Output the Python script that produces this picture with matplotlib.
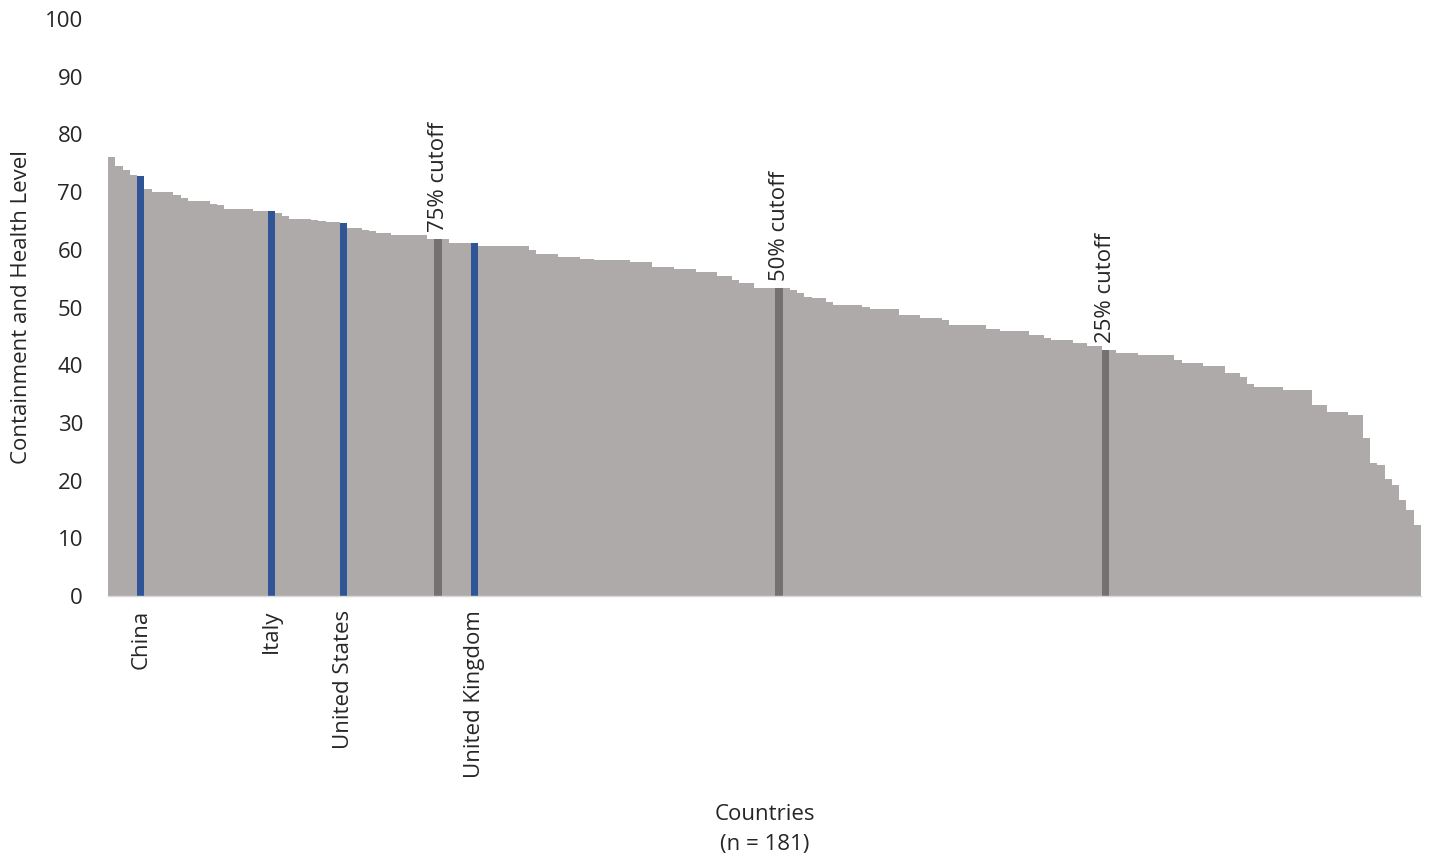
"""
Containment and health level by country, sorted descending.
"""

import matplotlib
matplotlib.use('Agg')
import matplotlib.pyplot as plt

# =============================================================================
# DATA
# =============================================================================

LEVELS = [
    76.0, 74.6, 73.8, 73.0, 72.8, 70.6, 70.1, 70.1, 70.1, 69.5,
    69.0, 68.4, 68.4, 68.4, 68.0, 67.7, 67.1, 67.1, 67.1, 67.1,
    66.8, 66.8, 66.8, 66.4, 65.9, 65.3, 65.3, 65.3, 65.2, 65.0,
    64.9, 64.8, 64.6, 63.8, 63.8, 63.5, 63.2, 62.9, 62.9, 62.5,
    62.5, 62.5, 62.5, 62.5, 61.8, 61.8, 61.8, 61.2, 61.2, 61.2,
    61.2, 60.6, 60.6, 60.6, 60.6, 60.6, 60.6, 60.6, 59.9, 59.3,
    59.3, 59.3, 58.7, 58.7, 58.7, 58.4, 58.4, 58.2, 58.2, 58.2,
    58.2, 58.2, 57.9, 57.9, 57.9, 57.1, 57.1, 57.1, 56.6, 56.6,
    56.6, 56.2, 56.2, 56.2, 55.4, 55.4, 54.8, 54.3, 54.3, 53.4,
    53.4, 53.4, 53.4, 53.3, 53.0, 52.5, 51.9, 51.6, 51.6, 51.0,
    50.5, 50.5, 50.5, 50.5, 50.1, 49.8, 49.8, 49.8, 49.8, 48.7,
    48.7, 48.7, 48.2, 48.2, 48.2, 47.8, 46.9, 46.9, 46.9, 46.9,
    46.9, 46.2, 46.2, 45.9, 45.9, 45.9, 45.9, 45.2, 45.2, 44.7,
    44.4, 44.4, 44.4, 43.9, 43.9, 43.3, 43.3, 42.7, 42.6, 42.2,
    42.2, 42.2, 41.7, 41.7, 41.7, 41.7, 41.7, 40.9, 40.3, 40.3,
    40.3, 39.8, 39.8, 39.8, 38.6, 38.6, 37.9, 36.7, 36.3, 36.3,
    36.3, 36.3, 35.7, 35.7, 35.7, 35.7, 33.1, 33.1, 31.9, 31.9,
    31.9, 31.3, 31.3, 27.3, 23.1, 22.7, 20.2, 19.2, 16.6, 14.9,
    12.3,
]

COUNTRY_NAMES = ['China', 'Italy', 'United States', 'United Kingdom']
COUNTRY_IDX = [4, 22, 32, 50]

CUTOFF_NAMES = ['75% cutoff', '50% cutoff', '25% cutoff']
CUTOFF_IDX = [45, 92, 137]

Y_TICKS = [0, 10, 20, 30, 40, 50, 60, 70, 80, 90, 100]

# =============================================================================
# STYLE
# =============================================================================

GREY = '#AEAAAA'
BLUE = '#2F5597'
DARK = '#767171'
TEXT = '#262626'
FS = 16

plt.rcParams['font.family'] = ['Open Sans', 'DejaVu Sans']

# =============================================================================
# PLOT
# =============================================================================

fig = plt.figure(figsize=(14.3, 8.65), dpi=100)
ax = fig.add_axes([108 / 1430, 1 - 596 / 865, 1313 / 1430, 577 / 865])

x = list(range(len(LEVELS)))
colors = [GREY] * len(LEVELS)
for i in COUNTRY_IDX:
    colors[i] = BLUE
for i in CUTOFF_IDX:
    colors[i] = DARK

ax.bar(x, LEVELS, width=1.0, color=colors, edgecolor='none', align='center')
# slim highlight so neighbours stay visible at the edges
for i in COUNTRY_IDX + CUTOFF_IDX:
    ax.bar(i, LEVELS[i], width=0.8, color=colors[i], edgecolor='none')

# cutoff labels above their bars
for name, i in zip(CUTOFF_NAMES, CUTOFF_IDX):
    ax.annotate(name, xy=(i, LEVELS[i]), xytext=(0, 5), textcoords='offset points',
                rotation=90, ha='center', va='bottom', fontsize=FS, color=TEXT)

ax.set_xlim(-0.5, len(LEVELS) - 0.5)
ax.set_ylim(0, 100)
ax.set_yticks(Y_TICKS)
ax.set_xticks(COUNTRY_IDX)
ax.set_xticklabels(COUNTRY_NAMES, rotation=90, ha='center', va='top')

ax.tick_params(axis='y', length=0, pad=18, labelsize=FS, labelcolor=TEXT)
ax.tick_params(axis='x', length=0, pad=10, labelsize=FS, labelcolor=TEXT)

for side in ['top', 'right', 'left']:
    ax.spines[side].set_visible(False)
ax.spines['bottom'].set_color('#D9D9D9')
ax.spines['bottom'].set_linewidth(1)

ax.set_ylabel('Containment and Health Level', fontsize=FS, color=TEXT)
ax.yaxis.set_label_coords(-0.058, 0.5)
ax.set_xlabel('Countries\n(n = 181)', fontsize=FS, color=TEXT, linespacing=1.55)
ax.xaxis.set_label_coords(0.5, -0.36)

fig.savefig('out.png', dpi=100, facecolor='white')
plt.close(fig)
